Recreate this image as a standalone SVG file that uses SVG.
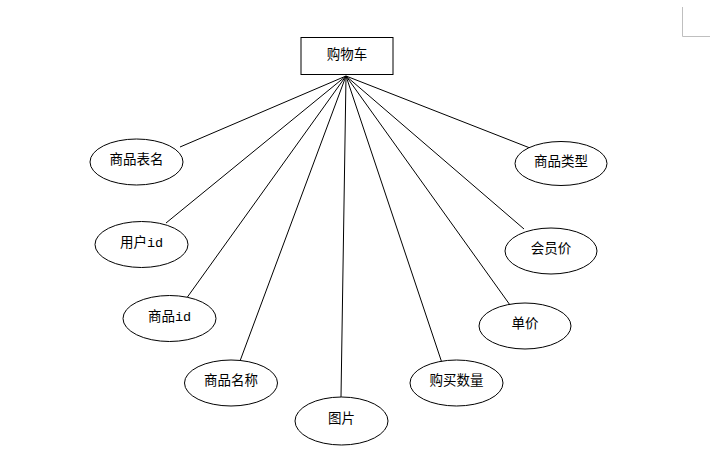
<svg xmlns="http://www.w3.org/2000/svg" width="710" height="453" viewBox="0 0 710 453">
<style>
.n{fill:#fff;stroke:#000;stroke-width:1}
.t{font-family:"Liberation Mono","Noto Sans CJK SC",monospace;font-size:13.5px;fill:#000;text-anchor:middle;dominant-baseline:central}
.c line{stroke:#000;stroke-width:1}
</style>
<rect width="710" height="453" fill="#fff"/>
<path d="M682.5 7V36.5H710" fill="none" stroke="#bfbfbf" stroke-width="1"/>
<g class="c" id="connectors">
<line x1="346" y1="76" x2="180" y2="147"/>
<line x1="346" y1="76" x2="166" y2="223"/>
<line x1="346" y1="76" x2="186" y2="299"/>
<line x1="346" y1="76" x2="240" y2="361"/>
<line x1="346" y1="76" x2="341" y2="397"/>
<line x1="346" y1="76" x2="443" y2="366"/>
<line x1="346" y1="76" x2="510" y2="305"/>
<line x1="346" y1="76" x2="524" y2="229"/>
<line x1="346" y1="76" x2="530" y2="148"/>
</g>
<g id="cart"><rect class="n" x="301" y="37.5" width="92" height="37"/><text class="t" x="347" y="55">购物车</text></g>
<g id="name_table"><ellipse class="n" cx="136.5" cy="162" rx="46.5" ry="23"/><text class="t" x="136.5" y="160.5">商品表名</text></g>
<g id="user_id"><ellipse class="n" cx="141.5" cy="244.5" rx="46.5" ry="23"/><text class="t" x="141.5" y="243">用户id</text></g>
<g id="goods_id"><ellipse class="n" cx="169.5" cy="318.5" rx="46.5" ry="23"/><text class="t" x="169.5" y="317">商品id</text></g>
<g id="goods_name"><ellipse class="n" cx="231" cy="383" rx="46.5" ry="23"/><text class="t" x="231" y="381.5">商品名称</text></g>
<g id="image"><ellipse class="n" cx="341.5" cy="421" rx="46.5" ry="24"/><text class="t" x="341.5" y="419.5">图片</text></g>
<g id="quantity"><ellipse class="n" cx="456.5" cy="383" rx="46.5" ry="23"/><text class="t" x="456.5" y="381.5">购买数量</text></g>
<g id="price"><ellipse class="n" cx="525" cy="326" rx="46" ry="23"/><text class="t" x="525" y="324.5">单价</text></g>
<g id="member_price"><ellipse class="n" cx="551" cy="251" rx="46" ry="23"/><text class="t" x="551" y="249.5">会员价</text></g>
<g id="goods_type"><ellipse class="n" cx="561" cy="163.5" rx="46" ry="22"/><text class="t" x="561" y="162">商品类型</text></g>
</svg>
